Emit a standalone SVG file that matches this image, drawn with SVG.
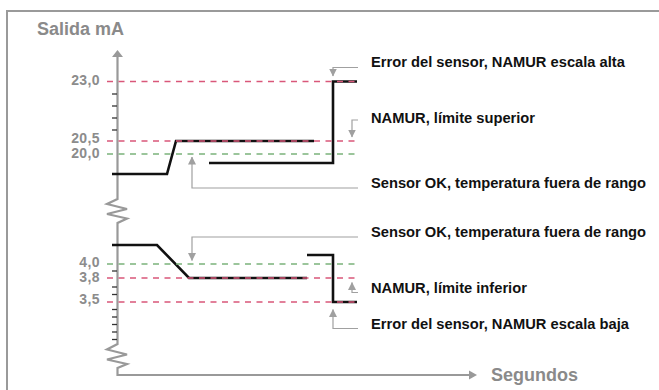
<svg xmlns="http://www.w3.org/2000/svg" width="659" height="390" viewBox="0 0 659 390">
<style>
.frame{fill:none;stroke:#9a9a9a;stroke-width:2}
.axis{fill:none;stroke:#999;stroke-width:2.2;stroke-linejoin:miter}
.tick{stroke:#333;stroke-width:1.3}
.red{stroke:#d9577a;stroke-width:1.3;stroke-dasharray:6 5.5;fill:none}
.green{stroke:#7bb37b;stroke-width:1.3;stroke-dasharray:6 5.5;fill:none}
.sig{fill:none;stroke:#111;stroke-width:2.6;stroke-linejoin:miter}
.lead{fill:none;stroke:#a0a0a0;stroke-width:1.2}
.ttl{font-family:"Liberation Sans",Arial,sans-serif;font-weight:bold;fill:#8a8a8a}
.val{font-family:"Liberation Sans",Arial,sans-serif;font-weight:bold;font-size:14px;fill:#8c8c8c;text-anchor:end;letter-spacing:0.4px}
.note{font-family:"Liberation Sans",Arial,sans-serif;font-weight:bold;font-size:14.7px;fill:#111}
</style>
<defs>
<marker id="ah" viewBox="0 0 8 8" refX="7.5" refY="4" markerWidth="8" markerHeight="8" markerUnits="userSpaceOnUse" orient="auto">
<path d="M0,0 L8,4 L0,8 Z" fill="#a0a0a0"/>
</marker>
</defs>
<path class="frame" d="M7,390 V11 H659"/>
<text class="ttl" x="37" y="35" font-size="18">Salida mA</text>
<g id="y-axis">
<path class="axis" d="M117.5,56 V199 L107,204 L127,209 L107,214 L127,218.5 L117.5,223 V344 L107,349.5 L127,354.5 L107,359.5 L127,364 L117.5,368 V375 H470"/>
<path d="M117.5,50 L112,57 L123,57 Z" fill="#999"/>
<path d="M477,375 L469,370.5 L469,379.5 Z" fill="#999"/>
<g class="tick">
<line x1="112" y1="94" x2="117" y2="94"/>
<line x1="112" y1="106" x2="117" y2="106"/>
<line x1="112" y1="118" x2="117" y2="118"/>
<line x1="112" y1="130" x2="117" y2="130"/>
<line x1="112" y1="271" x2="117" y2="271"/>
<line x1="112" y1="287" x2="117" y2="287"/>
<line x1="112" y1="294.5" x2="117" y2="294.5"/>
<line x1="112" y1="309.5" x2="117" y2="309.5"/>
<line x1="112" y1="317" x2="117" y2="317"/>
<line x1="112" y1="324.5" x2="117" y2="324.5"/>
<line x1="112" y1="332" x2="117" y2="332"/>
<line x1="112" y1="339.5" x2="117" y2="339.5"/>
</g>
</g>
<text class="ttl" x="491" y="381" font-size="18">Segundos</text>
<g id="labels">
<text class="val" x="100" y="85">23,0</text>
<text class="val" x="100" y="143">20,5</text>
<text class="val" x="100" y="158">20,0</text>
<text class="val" x="100" y="266.5">4,0</text>
<text class="val" x="100" y="282">3,8</text>
<text class="val" x="100" y="303.5">3,5</text>
</g>
<g id="signals">
<path class="sig" d="M112,174 H167 L176,141 H314"/>
<path class="sig" d="M209,163 H333 V81.5 H357"/>
<path class="sig" d="M112,245 H157 L189,278 H307"/>
<path class="sig" d="M307,255 H333 V302 H357"/>
</g>
<g id="levels">
<line class="red" x1="107" y1="81.5" x2="357" y2="81.5"/>
<line class="red" x1="107" y1="141" x2="357" y2="141"/>
<line class="green" x1="107" y1="154" x2="357" y2="154"/>
<line class="green" x1="107" y1="264" x2="357" y2="264"/>
<line class="red" x1="107" y1="278" x2="357" y2="278"/>
<line class="red" x1="107" y1="302" x2="357" y2="302"/>
</g>
<g id="connectors">
<path class="lead" d="M358,67.5 H333 V76" marker-end="url(#ah)"/>
<path class="lead" d="M358,120 H352 V137" marker-end="url(#ah)"/>
<path class="lead" d="M358,188 H192 V157" marker-end="url(#ah)"/>
<path class="lead" d="M358,237 H192 V260.5" marker-end="url(#ah)"/>
<path class="lead" d="M358,292.5 H352 V282.5" marker-end="url(#ah)"/>
<path class="lead" d="M358,328.5 H333 V309.5" marker-end="url(#ah)"/>
</g>
<g id="note-error-alta"><text class="note" x="371" y="67">Error del sensor, NAMUR escala alta</text></g>
<g id="note-limite-superior"><text class="note" x="371" y="123">NAMUR, límite superior</text></g>
<g id="note-sensor-ok-1"><text class="note" x="371" y="188">Sensor OK, temperatura fuera de rango</text></g>
<g id="note-sensor-ok-2"><text class="note" x="371" y="237">Sensor OK, temperatura fuera de rango</text></g>
<g id="note-limite-inferior"><text class="note" x="371" y="293">NAMUR, límite inferior</text></g>
<g id="note-error-baja"><text class="note" x="371" y="329">Error del sensor, NAMUR escala baja</text></g>
</svg>
